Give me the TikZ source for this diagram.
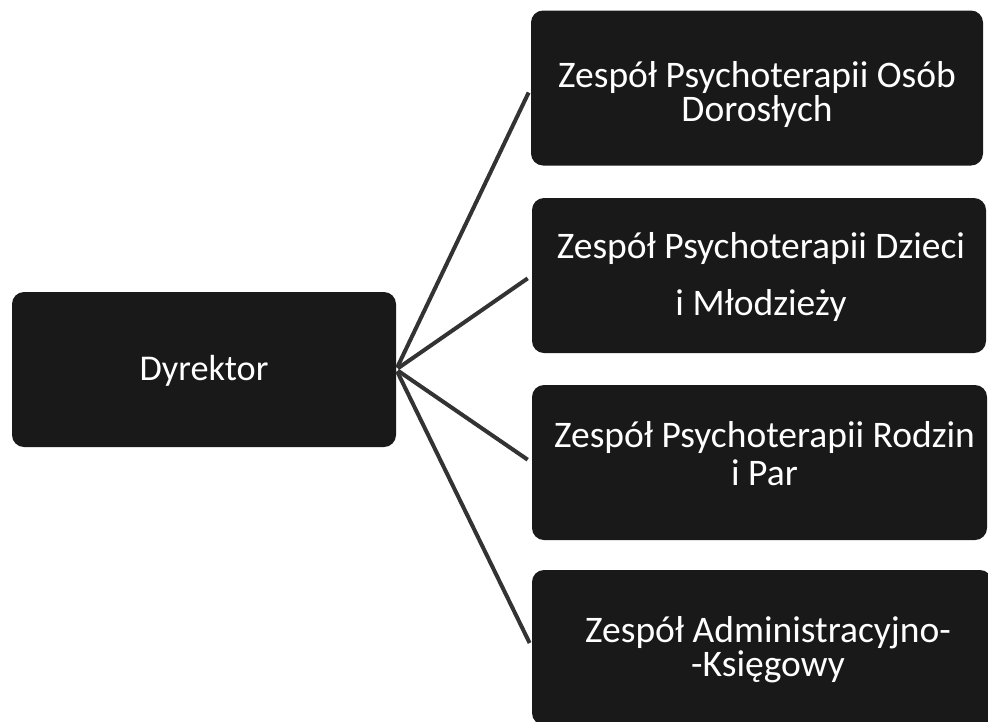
\documentclass[tikz,border=0pt]{standalone}
\usepackage{fontspec}
\setmainfont{Carlito}
\usetikzlibrary{positioning}
\definecolor{boxfill}{gray}{0.1}
\definecolor{linkgray}{gray}{0.2}

\begin{document}
\begin{tikzpicture}[x=1pt,y=-1pt,
		box/.style={rectangle,rounded corners=12pt,fill=boxfill,inner sep=0pt,minimum height=155pt},
		boxtext/.style={text=white,align=center,inner sep=0pt,anchor=base,font=\fontsize{37.5}{34}\selectfont},
		link/.style={draw=linkgray,line width=4pt,shorten <=2pt,shorten >=5pt}]
		\clip (0,0) rectangle (988,721);
		
		\node[box,minimum width=384pt] (dyr) at (204,369.5) {};
		\node[boxtext,font=\fontsize{36.3}{32}\selectfont] (dyrtxt) at (204,380) {Dyrektor};
		
		\node[box,minimum width=452pt] (zes1) at (757,88) {};
		\node[boxtext] (zes1txt) at (757,121) {Zespół Psychoterapii Osób\\Dorosłych};
		
		\node[box,minimum width=454pt] (zes2) at (759,275.5) {};
		\node[boxtext] (zes2txt) at (761,315) {Zespół Psychoterapii Dzieci\\[23pt]i Młodzieży};
		
		\node[box,minimum width=455pt] (zes3) at (759.5,462.5) {};
		\node[boxtext] (zes3txt) at (764.5,485) {Zespół Psychoterapii Rodzin\\[4pt]i Par};
		
		\node[box,minimum width=460pt] (zes4) at (762,647.5) {};
		\node[boxtext] (zes4txt) at (768,676) {Zespół Administracyjno-\\-Księgowy};
		
		\draw[link] (dyr.east) -- (zes1.west);
		\draw[link] (dyr.east) -- (zes2.west);
		\draw[link] (dyr.east) -- (zes3.west);
		\draw[link] (dyr.east) -- (zes4.west);
	\end{tikzpicture}
\end{document}
